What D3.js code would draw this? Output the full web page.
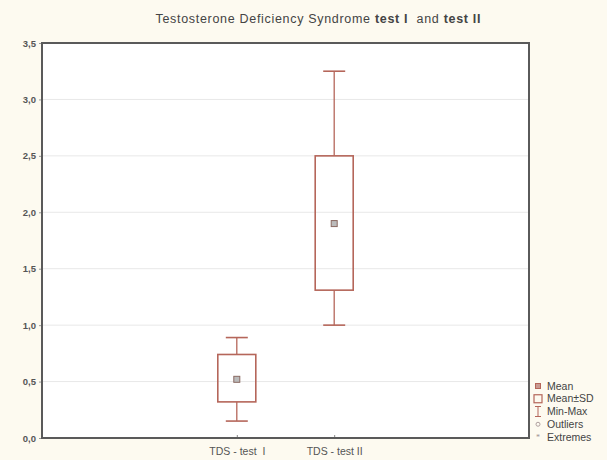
<!DOCTYPE html>
<html><head><meta charset="utf-8">
<script src="https://cdn.jsdelivr.net/npm/d3@7/dist/d3.min.js"></script>
<style>body{margin:0;background:#fdfaf0;}svg{display:block;}</style>
</head><body>
<script>
const categories = ["TDS - test  I", "TDS - test II"];
const catPos = [2, 3];
const means = [0.52, 1.90];
const sdLow = [0.32, 1.31];
const sdHigh = [0.74, 2.50];
const mins = [0.15, 1.00];
const maxs = [0.89, 3.25];
const yTicks = [0, 0.5, 1.0, 1.5, 2.0, 2.5, 3.0, 3.5];
const legendItems = ["Mean", "Mean±SD", "Min-Max", "Outliers", "Extremes"];

const W = 607, H = 460;
const m = {l: 42, r: 78, t: 43, b: 22};
const font = "Liberation Sans, Arial, sans-serif";
const svg = d3.select("body").append("svg").attr("width", W).attr("height", H);
svg.append("rect").attr("width", W).attr("height", H).attr("fill", "#fdfaf0");

const x = d3.scaleLinear().domain([0, 5]).range([m.l, W - m.r]);
const y = d3.scaleLinear().domain([0, 3.5]).range([H - m.b, m.t]);
const col = "#b5665a";

svg.append("rect").attr("x", m.l).attr("y", m.t).attr("width", W - m.r - m.l).attr("height", H - m.b - m.t).attr("fill", "#ffffff");

// grid
svg.append("g").selectAll("line").data(yTicks.slice(1, -1)).join("line")
  .attr("x1", m.l).attr("x2", W - m.r).attr("y1", d => y(d)).attr("y2", d => y(d))
  .attr("stroke", "#e8e8e8").attr("stroke-width", 1);

// y axis
const yAxis = d3.axisLeft(y).tickValues(yTicks).tickSize(3).tickPadding(3)
  .tickFormat(d => d3.format(".1f")(d).replace(".", ","));
const gy = svg.append("g").attr("transform", `translate(${m.l},0)`).call(yAxis);
gy.select(".domain").remove();
gy.selectAll("line").attr("stroke", "#999");
gy.selectAll("text").attr("font-family", font).attr("font-size", 9.5).attr("font-weight", "bold").attr("fill", "#555");

// x axis
const xAxis = d3.axisBottom(x).tickValues(catPos).tickSize(3).tickPadding(7)
  .tickFormat((d, i) => categories[i]);
const gx = svg.append("g").attr("transform", `translate(0,${H - m.b})`).call(xAxis);
gx.select(".domain").remove();
gx.selectAll("line").attr("stroke", "#888").attr("transform", "translate(0,-3)");
gx.selectAll("text").attr("font-family", font).attr("font-size", 10.5).attr("fill", "#555").attr("xml:space", "preserve");

// frame
svg.append("rect").attr("x", m.l).attr("y", m.t).attr("width", W - m.r - m.l).attr("height", H - m.b - m.t)
  .attr("fill", "none").attr("stroke", "#5a5a5a").attr("stroke-width", 2);

// boxes
const bw = 19;
const g = svg.append("g");
catPos.forEach((c, i) => {
  const cx = x(c);
  g.append("line").attr("x1", cx).attr("x2", cx).attr("y1", y(maxs[i])).attr("y2", y(sdHigh[i])).attr("stroke", col).attr("stroke-width", 1.3);
  g.append("line").attr("x1", cx).attr("x2", cx).attr("y1", y(sdLow[i])).attr("y2", y(mins[i])).attr("stroke", col).attr("stroke-width", 1.3);
  g.append("line").attr("x1", cx - 11).attr("x2", cx + 11).attr("y1", y(maxs[i])).attr("y2", y(maxs[i])).attr("stroke", col).attr("stroke-width", 1.6);
  g.append("line").attr("x1", cx - 11).attr("x2", cx + 11).attr("y1", y(mins[i])).attr("y2", y(mins[i])).attr("stroke", col).attr("stroke-width", 1.6);
  g.append("rect").attr("x", cx - bw).attr("y", y(sdHigh[i])).attr("width", 2 * bw).attr("height", y(sdLow[i]) - y(sdHigh[i]))
    .attr("fill", "none").attr("stroke", col).attr("stroke-width", 1.6);
  g.append("rect").attr("x", cx - 3).attr("y", y(means[i]) - 3).attr("width", 6).attr("height", 6)
    .attr("fill", "#bbb").attr("stroke", "#8a6a62").attr("stroke-width", 1);
});

// title
const t = svg.append("text").attr("x", 318).attr("y", 23).attr("text-anchor", "middle")
  .attr("font-family", font).attr("font-size", 12.5).attr("fill", "#444")
  .attr("textLength", 325).attr("lengthAdjust", "spacing").attr("xml:space", "preserve");
t.append("tspan").text("Testosterone Deficiency Syndrome ");
t.append("tspan").attr("font-weight", "bold").text("test I");
t.append("tspan").text("  and ");
t.append("tspan").attr("font-weight", "bold").text("test II");

// legend
const ly = d3.scalePoint().domain(legendItems).range([386, 437]);
const lg = svg.append("g");
legendItems.forEach((name, i) => {
  const yy = ly(name);
  const mx = 538;
  if (i === 0) lg.append("rect").attr("x", mx - 2.5).attr("y", yy - 2.5).attr("width", 5).attr("height", 5).attr("fill", "#c99a92").attr("stroke", col);
  if (i === 1) lg.append("rect").attr("x", mx - 4).attr("y", yy - 4).attr("width", 8).attr("height", 8).attr("fill", "none").attr("stroke", col).attr("stroke-width", 1.2);
  if (i === 2) {
    lg.append("line").attr("x1", mx).attr("x2", mx).attr("y1", yy - 5).attr("y2", yy + 5).attr("stroke", col);
    lg.append("line").attr("x1", mx - 3).attr("x2", mx + 3).attr("y1", yy - 5).attr("y2", yy - 5).attr("stroke", col);
    lg.append("line").attr("x1", mx - 3).attr("x2", mx + 3).attr("y1", yy + 5).attr("y2", yy + 5).attr("stroke", col);
  }
  if (i === 3) lg.append("circle").attr("cx", mx).attr("cy", yy).attr("r", 2).attr("fill", "none").attr("stroke", "#b0a0a0");
  if (i === 4) lg.append("text").attr("x", mx).attr("y", yy + 3).attr("text-anchor", "middle").attr("font-size", 8).attr("fill", "#a09090").text("*");
  lg.append("text").attr("x", 547).attr("y", yy + 3.5).attr("font-family", font).attr("font-size", 10.5).attr("fill", "#444").text(name);
});
</script>
</body></html>
